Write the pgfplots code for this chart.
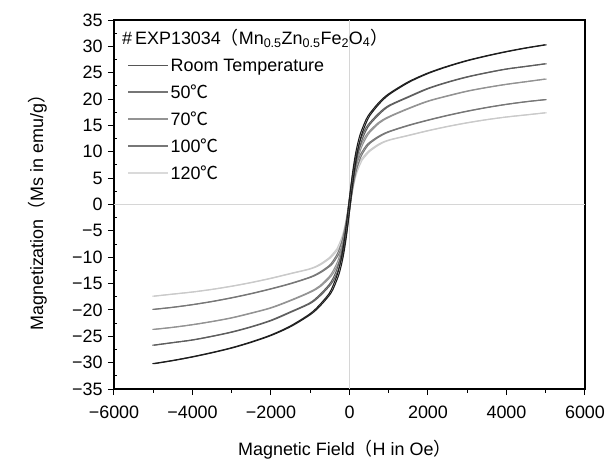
\documentclass[border=0pt]{standalone}
\usepackage{fontspec}
\setmainfont{Liberation Sans}
\newfontfamily\cjk{Noto Sans CJK JP}
\usepackage{pgfplots}
\usepackage{pgfplotstable}
\pgfplotsset{compat=1.18}

\definecolor{cRT}{HTML}{1E1E1E}
\definecolor{cT50}{HTML}{5E5E5E}
\definecolor{cT70}{HTML}{939393}
\definecolor{cT100}{HTML}{777777}
\definecolor{cT120}{HTML}{CACACA}
\definecolor{zeroline}{HTML}{D6D6D6}

% magnetization (emu/g) vs field (Oe)
\pgfplotstableread{
H     RT     T50    T70    T100   T120
-5000 -30.2 -26.7  -23.7  -19.9  -17.4
-4500 -29.6 -26.2  -23.3  -19.5  -17.0
-4000 -28.9 -25.7  -22.8  -19.0  -16.6
-3500 -28.1 -25.0  -22.2  -18.4  -16.1
-3000 -27.2 -24.2  -21.5  -17.7  -15.5
-2500 -26.1 -23.2  -20.6  -16.9  -14.8
-2000 -24.8 -22.0  -19.6  -16.0  -14.0
-1500 -23.1 -20.4  -18.2  -15.0  -13.1
-1000 -20.8 -18.7  -16.6  -13.8  -12.2
-750  -19.1 -17.2  -15.5  -12.9  -11.4
-500  -16.9 -15.2  -13.7  -11.6  -10.1
-400  -15.4 -14.0  -12.6  -10.7   -9.3
-300  -13.5 -12.3  -11.1   -9.5   -8.4
-250  -12.2 -11.1  -10.1   -8.7   -7.6
-200  -10.6  -9.7   -8.8   -7.6   -6.7
-150   -8.6  -7.9   -7.2   -6.3   -5.6
-100   -6.1  -5.7   -5.2   -4.6   -4.1
-50    -3.2  -3.0   -2.8   -2.5   -2.2
0       0.0   0.0    0.0    0.0    0.0
50      3.2   3.0    2.8    2.5    2.2
100     6.1   5.7    5.2    4.6    4.1
150     8.6   7.9    7.2    6.3    5.6
200    10.6   9.7    8.8    7.6    6.7
250    12.2  11.1   10.1    8.7    7.6
300    13.5  12.3   11.1    9.5    8.4
400    15.4  14.0   12.6   10.7    9.3
500    16.9  15.2   13.7   11.6   10.1
750    19.2  17.2   15.5   12.9   11.4
1000   20.9  18.7   16.6   13.8   12.2
1500   23.2  20.4   18.2   15.0   13.1
2000   24.9  22.0   19.6   16.0   14.0
2500   26.2  23.2   20.6   16.9   14.8
3000   27.3  24.2   21.5   17.7   15.5
3500   28.2  25.0   22.2   18.4   16.1
4000   29.0  25.7   22.8   19.0   16.6
4500   29.7  26.2   23.3   19.5   17.0
5000   30.3  26.7   23.8   19.9   17.4
}\magdata

\newcommand\fs{\fontsize{18}{21}\selectfont}

\begin{document}
\begin{tikzpicture}
\useasboundingbox (-114bp,-73bp) rectangle (494bp,389bp);
\begin{axis}[
  at={(0,0)}, anchor=south west,
  scale only axis, width=471bp, height=369bp,
  xmin=-6000, xmax=6000, ymin=-35, ymax=35,
  xtick={-6000,-4000,-2000,0,2000,4000,6000},
  xticklabels={−6000,−4000,−2000,0,2000,4000,6000},
  ytick={-35,-30,-25,-20,-15,-10,-5,0,5,10,15,20,25,30,35},
  yticklabels={−35,−30,−25,−20,−15,−10,−5,0,5,10,15,20,25,30,35},
  xtick pos=bottom, ytick pos=left,
  minor x tick num=1, minor y tick num=1,
  tick align=outside, major tick length=6bp, minor tick length=3.5bp,
  tick style={black, line width=1bp},
  minor y tick style={xshift=3.5bp},
  axis line style={black, line width=1.5bp},
  ticklabel style={font=\fs},
  xticklabel style={yshift=-7bp},
  yticklabel style={xshift=-2bp},
  label style={font=\fs},
  xlabel={Magnetic Field{\cjk （}H in Oe{\cjk ）}},
  ylabel={Magnetization{\cjk （}Ms in emu/g{\cjk ）}},
  xlabel style={at={(axis description cs:0.49,-0.165)}, anchor=center},
  ylabel style={at={(axis description cs:-0.163,0.49)}, anchor=center},
  legend style={at={(axis description cs:0.028,0.899)}, anchor=north west,
    draw=none, fill=none, font=\fs, row sep=8.8bp, inner sep=0pt,
    nodes={inner sep=1.5bp}},
  legend image code/.code={\draw[#1] (0bp,0.4bp) -- (40bp,0.4bp);},
  legend image post style={line width=1.8bp},
  legend cell align=left,
  every axis plot/.append style={smooth, line width=1.1bp, forget plot},
]
\draw[zeroline, line width=1.2bp] (axis cs:0,-35) -- (axis cs:0,35);
\draw[zeroline, line width=1.2bp] (axis cs:-6000,0) -- (axis cs:6000,0);

\addlegendimage{cRT!75!white, line width=1.8bp}
\addlegendentry{Room Temperature}
\addlegendimage{cT50!85!white, line width=1.8bp}
\addlegendentry{50{\cjk ℃}}
\addlegendimage{cT70, line width=1.8bp}
\addlegendentry{70{\cjk ℃}}
\addlegendimage{cT100, line width=1.8bp}
\addlegendentry{100{\cjk ℃}}
\addlegendimage{cT120!70!white, line width=1.8bp}
\addlegendentry{120{\cjk ℃}}

\addplot[cT120] table[x expr=\thisrow{H}+20, y=T120] {\magdata};
\addplot[cT120] table[x expr=\thisrow{H}-20, y=T120] {\magdata};
\addplot[cT100] table[x expr=\thisrow{H}+20, y=T100] {\magdata};
\addplot[cT100] table[x expr=\thisrow{H}-20, y=T100] {\magdata};
\addplot[cT70] table[x expr=\thisrow{H}+20, y=T70] {\magdata};
\addplot[cT70] table[x expr=\thisrow{H}-20, y=T70] {\magdata};
\addplot[cT50] table[x expr=\thisrow{H}+20, y=T50] {\magdata};
\addplot[cT50] table[x expr=\thisrow{H}-20, y=T50] {\magdata};
\addplot[cRT] table[x expr=\thisrow{H}+20, y=RT] {\magdata};
\addplot[cRT] table[x expr=\thisrow{H}-20, y=RT] {\magdata};

\node[anchor=west, font=\fs, inner sep=0pt] at (axis description cs:0.017,0.951)
  {\#\,EXP13034{\cjk （}Mn\textsubscript{0.5}Zn\textsubscript{0.5}Fe\textsubscript{2}O\textsubscript{4}{\cjk ）}};
\end{axis}
\end{tikzpicture}
\end{document}
